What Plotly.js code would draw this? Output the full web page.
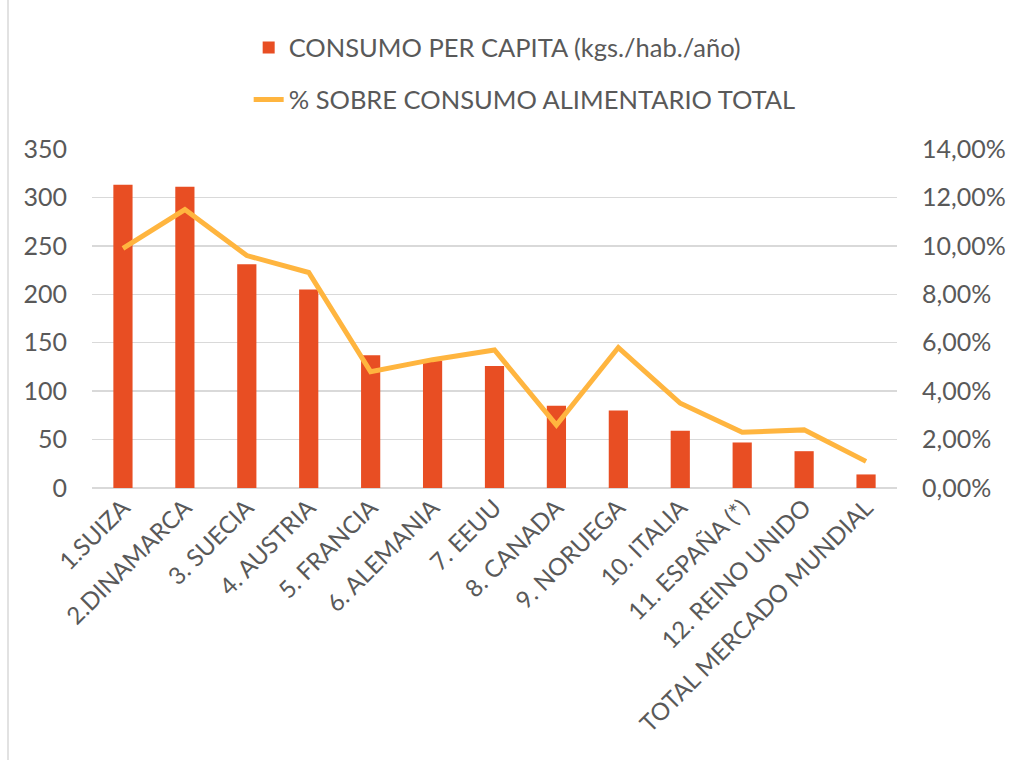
<!DOCTYPE html>
<html>
<head>
<meta charset="utf-8">
<script src="https://cdn.plot.ly/plotly-3.0.1.min.js"></script>
<style>html,body{margin:0;padding:0;background:#fff;}#chart{width:1015px;height:760px;}</style>
</head>
<body>
<div id="chart"></div>
<script>
const categories = ["1.SUIZA","2.DINAMARCA","3. SUECIA","4. AUSTRIA","5. FRANCIA","6. ALEMANIA","7. EEUU","8. CANADA","9. NORUEGA","10. ITALIA","11. ESPAÑA (*)","12. REINO UNIDO","TOTAL MERCADO MUNDIAL"];
const consumoPerCapita = [313, 311, 231, 205, 137, 131, 126, 85, 80, 59, 47, 38, 14];
const pctConsumo = [0.099, 0.115, 0.096, 0.089, 0.048, 0.053, 0.057, 0.026, 0.058, 0.035, 0.023, 0.024, 0.011];
const leftTicks = [0, 50, 100, 150, 200, 250, 300, 350];
const rightTicks = [0, 0.02, 0.04, 0.06, 0.08, 0.10, 0.12, 0.14];

const fontFam = "Lato, 'Open Sans', sans-serif";
const txtColor = "#595959";

const traces = [
  {
    type: "bar", x: categories, y: consumoPerCapita,
    name: "CONSUMO PER CAPITA (kgs./hab./año)",
    marker: {color: "#E84E23"}, legendgroup: "a", hoverinfo: "x+y"
  },
  {
    type: "scatter", mode: "lines", x: categories, y: pctConsumo, yaxis: "y2",
    name: "% SOBRE CONSUMO ALIMENTARIO TOTAL",
    line: {color: "#FFB53F", width: 5}, legendgroup: "b"
  }
];

const layout = {
  width: 1015, height: 760,
  margin: {l: 92, r: 118, t: 149, b: 272, autoexpand: false},
  paper_bgcolor: "#fff", plot_bgcolor: "#fff",
  separators: ",.",
  font: {family: fontFam, size: 25, color: txtColor},
  bargap: 0.69,
  showlegend: true,
  legend: {
    orientation: "v", xref: "container", yref: "container",
    x: 0.245, xanchor: "left", y: 0.968, yanchor: "top",
    tracegroupgap: 16, font: {family: fontFam, size: 25.5, color: txtColor}
  },
  xaxis: {
    type: "category", tickangle: -45, showgrid: false, showline: false, automargin: false,
    ticks: "", tickfont: {family: fontFam, size: 24, color: txtColor}
  },
  yaxis: {
    range: [0, 350], tickvals: leftTicks, showgrid: true, gridcolor: "#d9d9d9", gridwidth: 1.5,
    zeroline: true, zerolinecolor: "#d9d9d9", zerolinewidth: 1.5, showline: false, ticks: "", automargin: false,
    ticklabelstandoff: 24, tickfont: {family: fontFam, size: 25, color: txtColor}
  },
  yaxis2: {
    range: [0, 0.14], tickvals: rightTicks, tickformat: ".2%", overlaying: "y", side: "right",
    showgrid: false, zeroline: false, showline: false, ticks: "", automargin: false,
    ticklabelstandoff: 24, tickfont: {family: fontFam, size: 25, color: txtColor}
  },
  shapes: [
    {type: "line", xref: "paper", yref: "paper", x0: -84/805, x1: -84/805, y0: -272/339, y1: (339 + 149)/339,
     line: {color: "#d9d9d9", width: 1.5}}
  ]
};

Plotly.newPlot("chart", traces, layout, {displayModeBar: false, staticPlot: true});
</script>
</body>
</html>
